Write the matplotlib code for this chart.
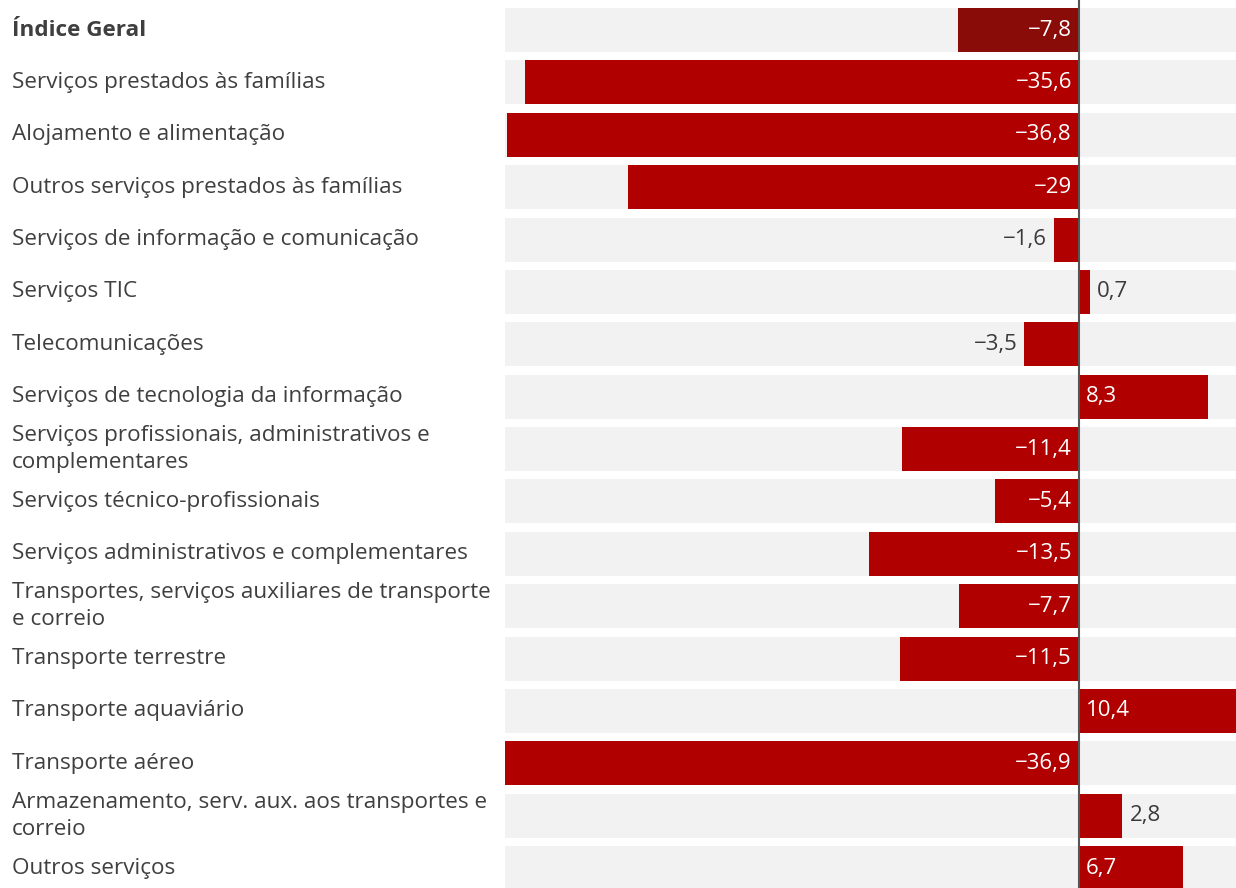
import matplotlib.pyplot as plt
from matplotlib.transforms import blended_transform_factory

plt.rcParams['font.family'] = ['Open Sans', 'DejaVu Sans']

categories = [
    "Índice Geral",
    "Serviços prestados às famílias",
    "Alojamento e alimentação",
    "Outros serviços prestados às famílias",
    "Serviços de informação e comunicação",
    "Serviços TIC",
    "Telecomunicações",
    "Serviços de tecnologia da informação",
    "Serviços profissionais, administrativos e\ncomplementares",
    "Serviços técnico-profissionais",
    "Serviços administrativos e complementares",
    "Transportes, serviços auxiliares de transporte\ne correio",
    "Transporte terrestre",
    "Transporte aquaviário",
    "Transporte aéreo",
    "Armazenamento, serv. aux. aos transportes e\ncorreio",
    "Outros serviços",
]
values = [-7.8, -35.6, -36.8, -29, -1.6, 0.7, -3.5, 8.3, -11.4, -5.4,
          -13.5, -7.7, -11.5, 10.4, -36.9, 2.8, 6.7]

fig = plt.figure(figsize=(12.36, 8.88), dpi=100)
ax = fig.add_axes([505 / 1236, 0, 1 - 505 / 1236, 1])

xmin, xmax = -36.9, 10.1
ax.set_xlim(xmin, xmax)
ax.set_ylim(16.38, -0.573)

h = 0.84
for i, v in enumerate(values):
    ax.axhspan(i - h / 2, i + h / 2, color='#f2f2f2', lw=0, zorder=0)

colors = ['#8a0c08'] + ['#b00000'] * (len(values) - 1)
ax.barh(range(len(values)), values, height=h, color=colors, zorder=2)
ax.axvline(0, color='#555555', lw=1.5, zorder=3)

off = 0.45
for i, v in enumerate(values):
    label = f"{v:g}".replace('.', ',').replace('-', '\u2212')
    inside = abs(v) >= 5
    if v < 0:
        x = -off if inside else v - off
        ha = 'right'
    else:
        x = off if inside else v + off
        ha = 'left'
    ax.text(x, i, label, ha=ha, va='center', fontsize=16,
            color='white' if inside else '#3a3a3a', zorder=4)

trans = blended_transform_factory(fig.transFigure, ax.transData)
for i, c in enumerate(categories):
    ax.text(12 / 1236, i, c, transform=trans, ha='left', va='center',
            fontsize=16.2, color='#3f3f3f', linespacing=1.35,
            fontweight='bold' if i == 0 else 'normal', clip_on=False)

ax.axis('off')
fig.savefig('out.png', dpi=100, facecolor='white')
